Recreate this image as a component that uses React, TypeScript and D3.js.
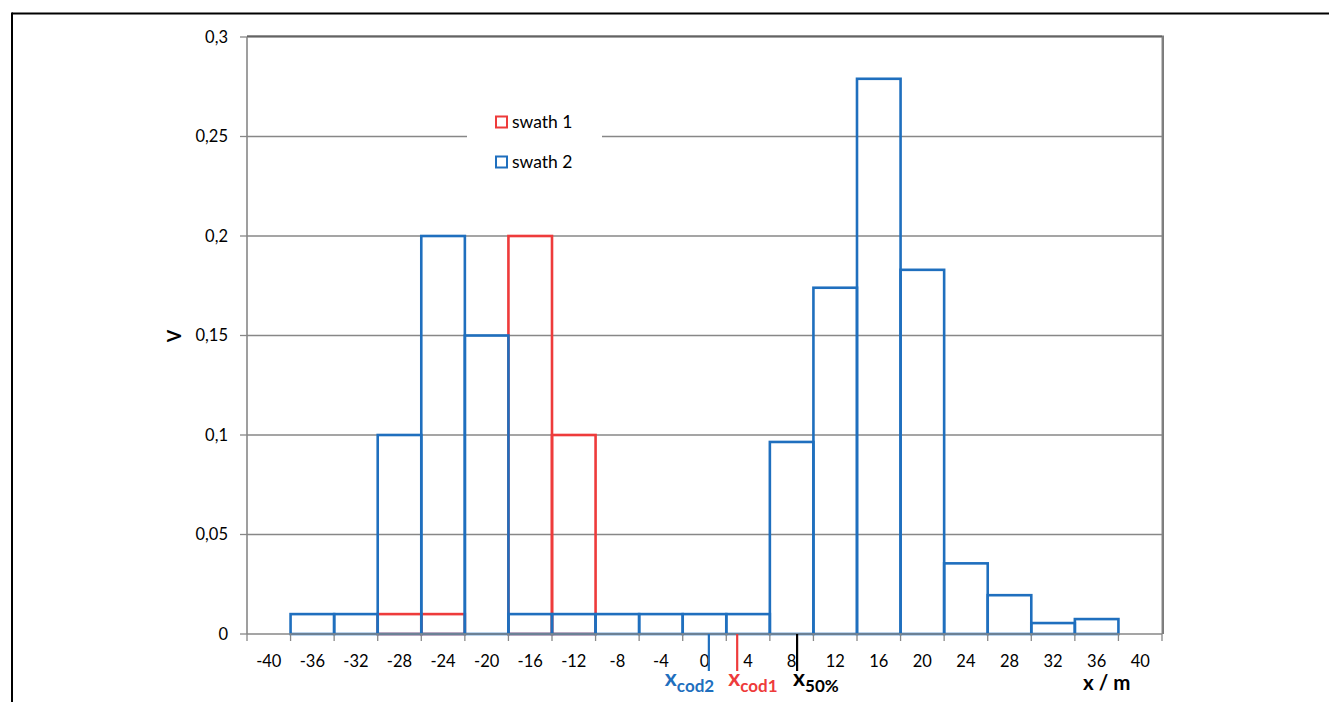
import React from "react";
import * as d3 from "d3";

const categories = [-40, -36, -32, -28, -24, -20, -16, -12, -8, -4, 0, 4, 8, 12, 16, 20, 24, 28, 32, 36, 40];
const swath1 = [0, 0, 0, 0.01, 0.01, 0, 0.2, 0.1, 0, 0, 0, 0, 0, 0, 0, 0, 0, 0, 0, 0, 0];
const swath2 = [0, 0.01, 0.01, 0.1, 0.2, 0.15, 0.01, 0.01, 0.01, 0.01, 0.01, 0.01, 0.0965, 0.174, 0.279, 0.183, 0.0355, 0.0195, 0.0055, 0.0075, 0];
const yTicks = [0, 0.05, 0.1, 0.15, 0.2, 0.25, 0.3];
const seriesNames = ["swath 1", "swath 2"];
const markerNames = ["cod2", "cod1", "50%"];
const markerValues = [0.4, 3.0, 8.5];

const BLUE = "#1f6fbe";
const RED = "#ee3b3b";
const GRID = "#878787";
const FONT = "Lato, 'Open Sans', sans-serif";

export default function App() {
  const W = 1329, H = 702;
  const left = 247, right = 1162, top = 37, bottom = 634;

  const x = d3.scaleBand<string>().domain(categories.map(String)).range([left, right]).padding(0);
  const bw = x.bandwidth();
  const y = d3.scaleLinear().domain([0, 0.3]).range([bottom, top]);
  const xm = d3.scaleLinear().domain([-40, 40]).range([left + bw / 2, right - bw / 2]);

  const fmt = (v: number) => String(v).replace(".", ",");
  const boundaries = d3.range(categories.length + 1).map((i) => left + i * bw);

  const seriesColors = [RED, BLUE];
  const seriesData = [swath1, swath2];
  const markerColors = [BLUE, RED, "#000"];
  const labelOffsets = [-44, -9, -4];

  return (
    <svg width={W} height={H} style={{ position: "absolute", left: 0, top: 0, background: "#fff" }} fontFamily={FONT}>
      <rect x={0} y={0} width={W} height={H} fill="#fff" />
      {/* outer frame */}
      <line x1={12} y1={13.5} x2={W} y2={13.5} stroke="#000" strokeWidth={2} />
      <line x1={12} y1={12.5} x2={12} y2={H} stroke="#000" strokeWidth={2} />

      {/* gridlines */}
      {yTicks.slice(1).map((t) => (
        <line key={t} x1={left} x2={right} y1={y(t)} y2={y(t)} stroke={GRID} strokeWidth={1.3} />
      ))}
      {/* plot border */}
      <line x1={left} x2={right} y1={top - 1} y2={top - 1} stroke="#222" strokeWidth={1.2} />
      <line x1={right + 1} x2={right + 1} y1={top - 1.5} y2={bottom} stroke="#222" strokeWidth={1.2} />
      <line x1={right} x2={right} y1={top} y2={bottom} stroke={GRID} strokeWidth={1} />

      {/* legend */}
      <rect x={467} y={100} width={135} height={82} fill="#fff" />
      {seriesNames.map((n, i) => (
        <g key={n} transform={`translate(496,${116.5 + i * 40})`}>
          <rect x={0} y={0} width={11} height={11} fill="none" stroke={seriesColors[i]} strokeWidth={2} />
          <text x={16} y={11} fontSize={17.5} fill="#000">{n}</text>
        </g>
      ))}

      {/* bars */}
      {seriesData.map((vals, si) => (
        <g key={si}>
          {vals.map((v, i) =>
            v > 0 ? (
              <rect
                key={i}
                x={x(String(categories[i]))!}
                y={y(v)}
                width={bw}
                height={bottom - y(v)}
                fill="none"
                stroke={seriesColors[si]}
                strokeWidth={2.6}
              />
            ) : null
          )}
        </g>
      ))}

      {/* axes */}
      <line x1={left} x2={left} y1={top} y2={bottom} stroke={GRID} strokeWidth={1.6} />
      <line x1={left} x2={right} y1={bottom} y2={bottom} stroke={GRID} strokeWidth={1.6} />
      {yTicks.map((t) => (
        <g key={t}>
          <line x1={left - 7} x2={left} y1={y(t)} y2={y(t)} stroke={GRID} strokeWidth={1.3} />
          <text x={228} y={y(t)} dy="0.35em" textAnchor="end" fontSize={16.5} fill="#000">
            {fmt(t)}
          </text>
        </g>
      ))}
      {boundaries.map((b, i) => (
        <line key={i} x1={b} x2={b} y1={bottom} y2={bottom + 7} stroke={GRID} strokeWidth={1.3} />
      ))}
      {categories.map((c) => (
        <text key={c} x={x(String(c))! + bw / 2} y={667} textAnchor="middle" fontSize={16.5} fill="#000">
          {c}
        </text>
      ))}

      {/* axis titles */}
      <text transform={`translate(181,336) rotate(-90)`} textAnchor="middle" fontSize={18} fontWeight="bold" fill="#000">
        V
      </text>
      <text x={1083} y={690} fontSize={20.5} fontWeight="bold" fill="#000">
        x / m
      </text>

      {/* markers */}
      {markerValues.map((v, i) => (
        <g key={i}>
          <line x1={xm(v)} x2={xm(v)} y1={bottom} y2={671} stroke={markerColors[i]} strokeWidth={2.2} />
          <text x={xm(v) + labelOffsets[i]} y={686} fontWeight="bold" fill={markerColors[i]} fontSize={23}>
            x
            <tspan dy={6} fontSize={17}>{markerNames[i]}</tspan>
          </text>
        </g>
      ))}
    </svg>
  );
}
